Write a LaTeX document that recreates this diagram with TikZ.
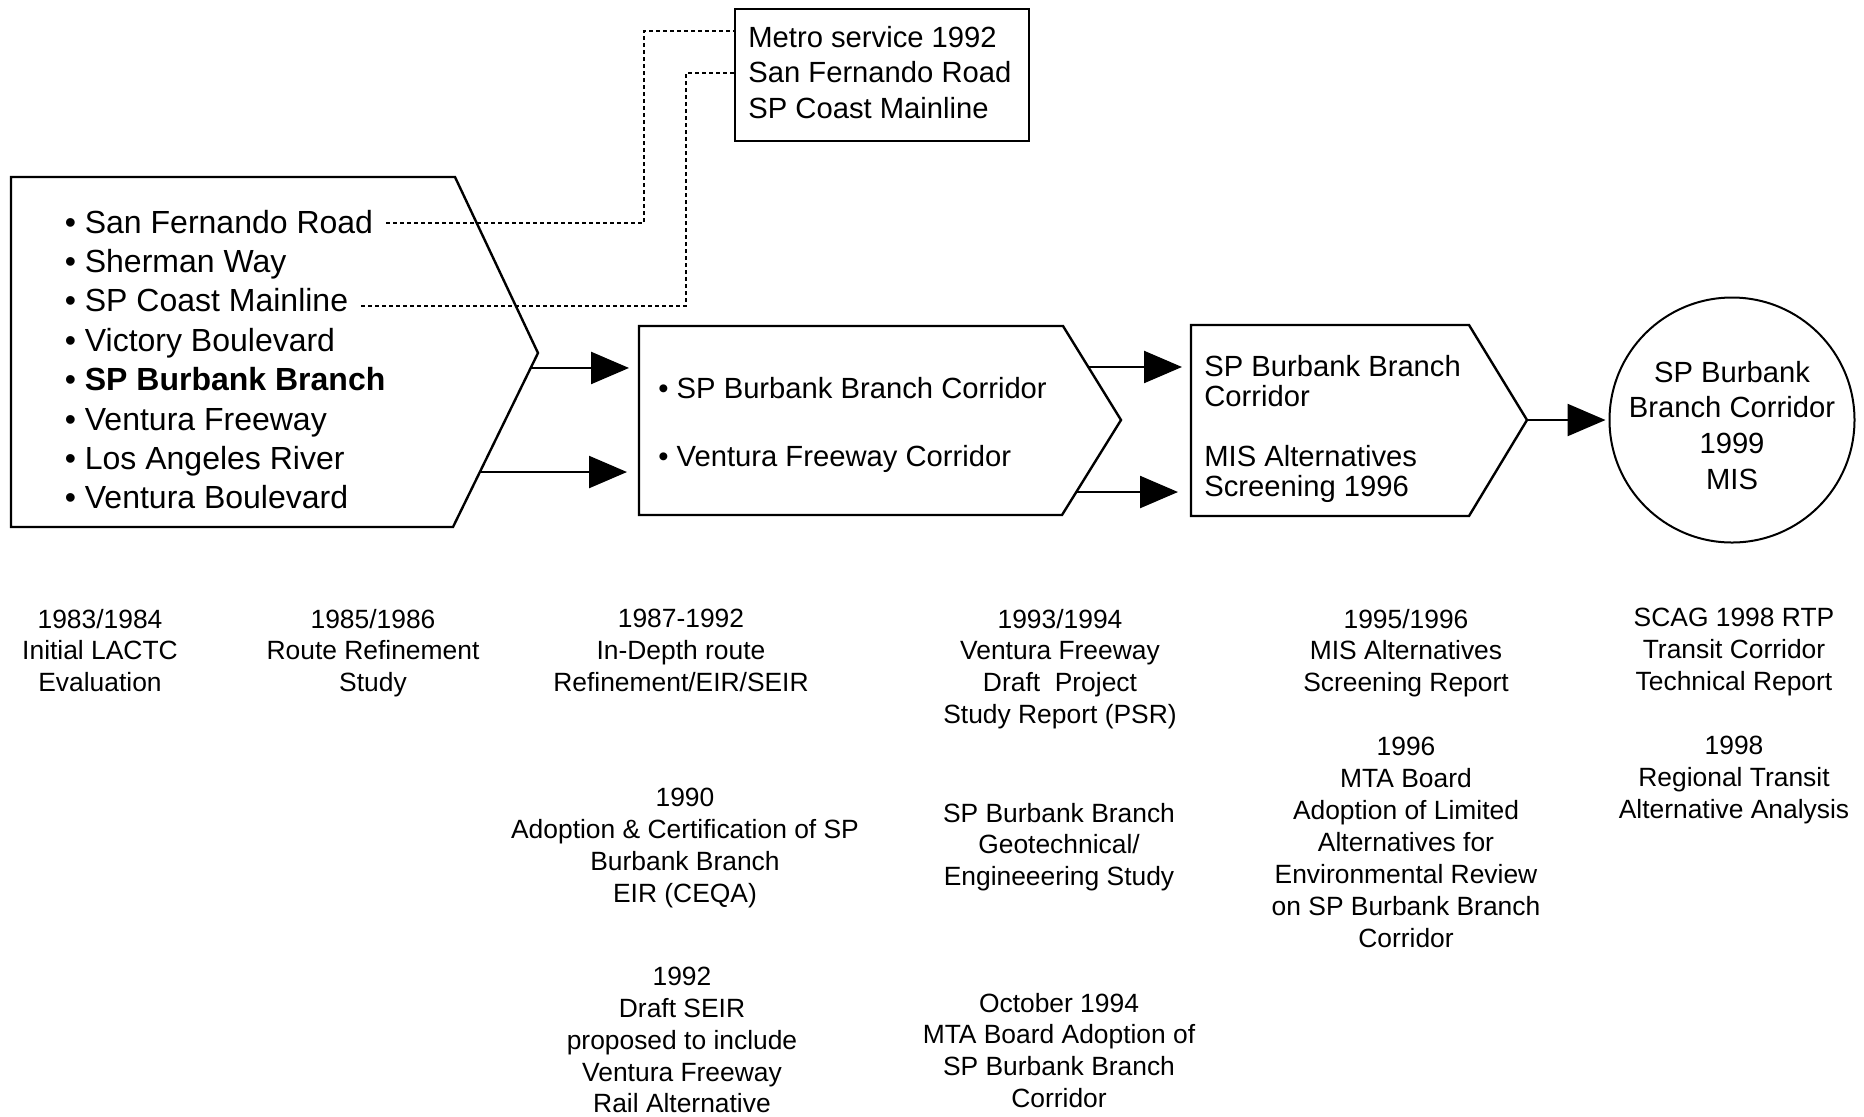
\documentclass[tikz,border=0pt]{standalone}
\usepackage{fontspec}
\setmainfont{Liberation Sans}
\usetikzlibrary{arrows.meta,calc}
\begin{document}
\begin{tikzpicture}[x=0.5pt,y=-0.5pt,
  outline/.style={line width=1.2pt, line join=miter},
  arr/.style={line width=1.2pt,-{Triangle[length=19pt,width=16pt]}},
  dots/.style={line width=0.9pt, dash pattern=on 2pt off 1.5pt},
  listtxt/.style={inner sep=0pt, anchor=north west, align=left},
  lbl/.style={inner sep=0pt, align=center, anchor=north, font=\fontsize{13.2}{15.95}\selectfont}]
\useasboundingbox (0,0) rectangle (1864,1116);

% left pentagon
\coordinate (p1tl) at (11,177);
\coordinate (p1tr) at (455,177);
\coordinate (p1tip) at (538,353);
\coordinate (p1br) at (453,527);
\coordinate (p1bl) at (11,527);
\draw[outline] (p1tl) -- (p1tr) -- (p1tip) -- (p1br) -- (p1bl) -- cycle;
\node[listtxt, font=\fontsize{16}{19.7}\selectfont] (list) at (64.4,209.5)
 {• San Fernando Road\\• Sherman Way\\• SP Coast Mainline\\• Victory Boulevard\\• \textbf{SP Burbank Branch}\\• Ventura Freeway\\• Los Angeles River\\• Ventura Boulevard};

% top box
\node[draw, line width=1.2pt, anchor=north west, minimum width=147pt, minimum height=66pt, inner sep=0pt] (topbox) at (734,8) {};
\node[listtxt, font=\fontsize{14.6}{17.85}\selectfont] (toptxt) at (748,25.5)
 {Metro service 1992\\San Fernando Road\\SP Coast Mainline};

% dotted connectors
\coordinate (d1s) at (386,223);
\coordinate (d1k) at (644,31);
\draw[dots] (d1s) -| (d1k) -- (d1k -| topbox.west);
\coordinate (d2s) at (361,306);
\coordinate (d2k) at (686,73);
\draw[dots] (d2s) -| (d2k) -- (d2k -| topbox.west);

% second pentagon
\coordinate (p2tl) at (639,326);
\coordinate (p2tr) at (1063,326);
\coordinate (p2tip) at (1121,420);
\coordinate (p2br) at (1062,515);
\coordinate (p2bl) at (639,515);
\draw[outline] (p2tl) -- (p2tr) -- (p2tip) -- (p2br) -- (p2bl) -- cycle;
\node[listtxt, font=\fontsize{14.6}{34}\selectfont] (p2txt) at (658,376.5)
 {• SP Burbank Branch Corridor\\• Ventura Freeway Corridor};

% third pentagon
\coordinate (p3tl) at (1191,325);
\coordinate (p3tr) at (1469,325);
\coordinate (p3tip) at (1527,420);
\coordinate (p3br) at (1469,516);
\coordinate (p3bl) at (1191,516);
\draw[outline] (p3tl) -- (p3tr) -- (p3tip) -- (p3br) -- (p3bl) -- cycle;
\node[listtxt, font=\fontsize{14.6}{15}\selectfont] (p3txt) at (1204,354.5)
 {SP Burbank Branch\\Corridor\\[15pt]MIS Alternatives\\Screening 1996};

% circle
\node[draw, circle, line width=1pt, minimum size=122.5pt, inner sep=0pt] (circ) at (1732,420) {};
\node[lbl, font=\fontsize{14.6}{17.85}\selectfont] (circtxt) at (1732,360.5)
 {SP Burbank\\Branch Corridor\\1999\\MIS};

% arrows
\coordinate (a1s) at ($(p1tip)!0.086!(p1br)$);
\coordinate (a2s) at ($(p1tip)!0.684!(p1br)$);
\draw[arr, shorten >=5pt] (a1s) -- (a1s -| p2tl);
\draw[arr, shorten >=6pt] (a2s) -- (a2s -| p2tl);
\coordinate (a3s) at ($(p2tr)!0.436!(p2tip)$);
\coordinate (a4s) at ($(p2tip)!0.758!(p2br)$);
\draw[arr, shorten >=4.5pt] (a3s) -- (a3s -| p3tl);
\draw[arr, shorten >=6.5pt] (a4s) -- (a4s -| p3tl);
\draw[arr, shorten >=1.5pt] (p3tip) -- (circ.west);

% timeline labels
\node[lbl] (c1) at (100,608.5) {1983/1984\\Initial LACTC\\Evaluation};
\node[lbl] (c2) at (373,608.5) {1985/1986\\Route Refinement\\Study};
\node[lbl] (c3a) at (681,608.5) {1987-1992\\In-Depth route\\Refinement/EIR/SEIR};
\node[lbl] (c3b) at (685,788) {1990\\Adoption \& Certification of SP\\Burbank Branch\\EIR (CEQA)};
\node[lbl] (c3c) at (682,966.5) {1992\\Draft SEIR\\proposed to include\\Ventura Freeway\\Rail Alternative};
\node[lbl] (c4a) at (1060,608.5) {1993/1994\\Ventura Freeway\\Draft\ \ Project\\Study Report (PSR)};
\node[lbl] (c4b) at (1059,802.5) {SP Burbank Branch\\Geotechnical/\\Engineeering Study};
\node[lbl] (c4c) at (1059,992.5) {October 1994\\MTA Board Adoption of\\SP Burbank Branch\\Corridor};
\node[lbl] (c5a) at (1406,608.5) {1995/1996\\MIS Alternatives\\Screening Report};
\node[lbl] (c5b) at (1406,737) {1996\\MTA Board\\Adoption of Limited\\Alternatives for\\Environmental Review\\on SP Burbank Branch\\Corridor};
\node[lbl] (c6a) at (1734,607.5) {SCAG 1998 RTP\\Transit Corridor\\Technical Report};
\node[lbl] (c6b) at (1734,736) {1998\\Regional Transit\\Alternative Analysis};
\end{tikzpicture}
\end{document}
